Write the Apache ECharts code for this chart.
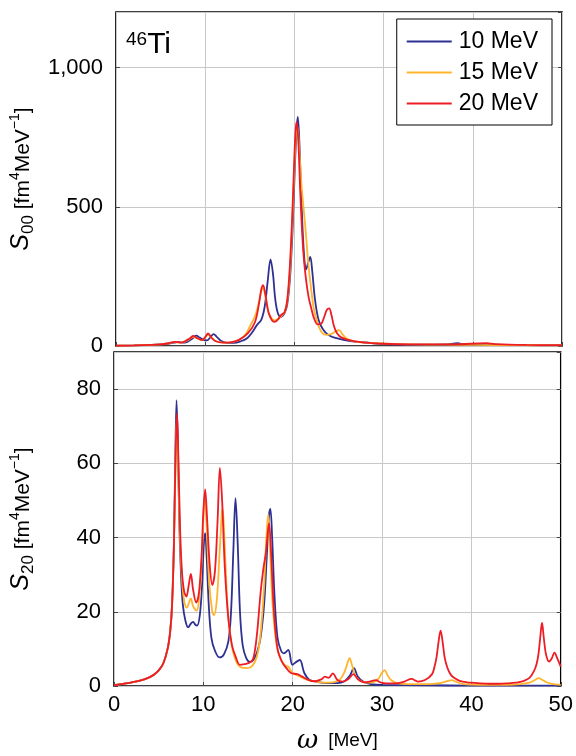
<!DOCTYPE html>
<html><head><meta charset="utf-8">
<script src="https://cdn.jsdelivr.net/npm/echarts@6/dist/echarts.min.js"></script>
<style>html,body{margin:0;padding:0;background:#fff}#c{width:576px;height:756px}</style>
</head><body><div id="c"></div>
<script>
// ---- data (omega [MeV], S [fm^4 MeV^-1]) ----
const seriesNames = ['10 MeV', '15 MeV', '20 MeV'];
const xTicks = [0, 10, 20, 30, 40, 50];
const s00Ticks = [0, 500, 1000];
const s20Ticks = [0, 20, 40, 60, 80];

const s00_10 = [[0,1],[2,2],[4,4],[5,6],[6,9],[6.7,13],[7.0,15],[7.4,12],[8.0,15],[8.5,25],[9.0,37],[9.4,30],[9.8,22],[10.2,20],[10.6,32],[10.95,43],[11.3,33],[11.8,18],[12.5,11],[13.2,11],[14,17],[14.7,28],[15.2,46],[15.8,75],[16.3,95],[16.67,141],[17.0,230],[17.33,311],[17.6,260],[17.85,170],[18.15,118],[18.5,105],[18.9,118],[19.2,150],[19.5,240],[19.8,420],[20.05,640],[20.25,780],[20.38,823],[20.55,740],[20.75,560],[20.95,400],[21.15,300],[21.3,275],[21.55,300],[21.78,320],[22.0,270],[22.3,170],[22.7,95],[23.2,60],[23.8,40],[24.5,30],[25.5,22],[26.5,17],[27.5,14],[28.5,11],[29.5,8],[31,6],[34,5],[37,6],[38.3,10],[39,6],[42,5],[46,3],[50,2]];
const s00_15 = [[0,1],[2,2],[4,4],[5,6],[5.8,9],[6.6,14],[7.2,12],[7.8,17],[8.3,26],[8.67,33],[9.0,29],[9.67,21],[10.0,30],[10.33,42],[10.7,29],[11.2,17],[12,12],[13,14],[13.8,22],[14.5,40],[15.0,70],[15.56,105],[15.9,140],[16.2,185],[16.45,210],[16.75,180],[17.1,122],[17.5,97],[17.8,92],[18.2,98],[18.6,110],[18.9,120],[19.2,160],[19.5,265],[19.8,470],[20.05,680],[20.2,770],[20.33,790],[20.5,730],[20.75,600],[21.0,505],[21.25,420],[21.55,300],[21.85,213],[22.15,140],[22.4,105],[22.8,65],[23.15,46],[23.6,40],[24.1,43],[24.6,52],[25.0,57],[25.4,42],[25.8,28],[26.3,20],[27,15],[28,12],[30,9],[33,6],[37,5],[40,4],[45,3],[50,2]];
const s00_20 = [[0,1],[2,2],[4,4],[5,6],[5.8,9],[6.6,15],[7.2,12],[7.8,18],[8.3,28],[8.67,36],[9.0,30],[9.67,21],[10.0,32],[10.33,45],[10.7,30],[11.2,17],[12,12],[13,14],[13.8,22],[14.8,46],[15.6,87],[16.1,165],[16.3,205],[16.49,219],[16.75,185],[17.1,120],[17.5,92],[17.78,87],[18.2,97],[18.5,111],[18.9,122],[19.2,165],[19.5,290],[19.8,500],[20.0,680],[20.15,780],[20.26,805],[20.45,730],[20.65,560],[20.85,420],[21.05,320],[21.3,240],[21.6,175],[21.9,135],[22.2,100],[22.6,78],[23.0,80],[23.35,105],[23.65,130],[23.9,135],[24.15,112],[24.45,70],[24.8,45],[25.3,30],[26.5,18],[28,12],[30,8],[33,6],[38,6],[41.5,10],[42.5,7],[46,4],[50,3]];

const s20_10 = [[0,0.2],[1,0.6],[2,1.0],[3,1.5],[4,2.4],[4.5,3.1],[5,4.2],[5.5,6],[6,10],[6.3,15],[6.5,22],[6.7,38],[6.85,60],[7.0,77],[7.15,65],[7.3,45],[7.5,30],[7.7,22],[8.0,17.5],[8.3,15.8],[8.6,16.8],[8.85,17.3],[9.1,16.5],[9.3,16.3],[9.6,19],[9.85,27],[10.05,38],[10.2,41.2],[10.35,36],[10.6,22],[10.9,13],[11.3,9.5],[11.8,7.7],[12.3,8.5],[12.8,12],[13.1,20],[13.35,36],[13.6,50.6],[13.85,38],[14.1,20],[14.4,11],[14.8,7.5],[15.2,6.5],[15.6,7],[16.0,9],[16.4,13],[16.8,22],[17.1,35],[17.35,46],[17.5,47.7],[17.7,40],[17.95,25],[18.3,13],[18.7,9.5],[19.0,8.8],[19.5,9.7],[19.97,5.7],[20.4,6.5],[20.8,7],[21.3,3.5],[21.9,1.6],[23,1.0],[24,0.8],[25,0.8],[25.8,1.3],[26.4,2.8],[26.85,4.8],[27.3,2.5],[28,1],[29,0.4],[30,0.3],[35,0.2],[40,0.1],[45,0.1],[50,0.1]];
const s20_15 = [[0,0.2],[1,0.6],[2,1.0],[3,1.5],[4,2.4],[4.5,3.1],[5,4.2],[5.5,6],[6,10],[6.3,15],[6.5,22],[6.7,37],[6.85,55],[7.0,72],[7.15,62],[7.35,42],[7.6,29],[7.85,23],[8.15,21.1],[8.4,22.5],[8.6,23.6],[8.85,21.5],[9.25,20.3],[9.55,24],[9.8,33],[10.0,45],[10.15,51],[10.35,44],[10.65,28],[11.0,20],[11.2,19.1],[11.5,23],[11.8,35],[12.05,46],[12.15,47.9],[12.35,40],[12.7,22],[13.1,12],[13.6,7],[14.2,5],[14.9,4.8],[15.5,5.5],[16.0,8],[16.4,14],[16.8,27],[17.05,40],[17.25,46.1],[17.45,38],[17.75,22],[18.2,11],[18.7,7],[19.2,5.5],[19.5,5.2],[20,3.5],[20.6,2.8],[21.5,1.8],[22.5,1.2],[23.5,0.9],[24.5,1.0],[25.3,1.8],[25.8,3.8],[26.1,6],[26.37,7.5],[26.65,5.5],[27.0,2.8],[27.5,1.5],[28.2,0.9],[29,1.0],[29.6,2],[30.0,3.6],[30.27,4.3],[30.6,3],[31,1.6],[31.7,0.8],[33,0.5],[35,0.5],[36.5,0.8],[37.3,1.3],[37.8,1.6],[38.3,1.1],[39,0.6],[40,0.4],[42,0.3],[44,0.3],[45.5,0.5],[46.5,0.9],[47.1,1.6],[47.5,2.1],[47.9,1.7],[48.4,1.0],[49,0.6],[50,0.3]];
const s20_20 = [[0,0.2],[1,0.6],[2,1.0],[3,1.5],[4,2.4],[4.5,3.1],[5,4.2],[5.5,6],[6,10],[6.3,15],[6.5,22],[6.7,37],[6.85,57],[7.05,73.5],[7.2,62],[7.4,42],[7.6,31],[7.85,25.5],[8.1,24.1],[8.35,27],[8.6,30.2],[8.85,26],[9.2,22.5],[9.5,25],[9.8,35],[10.0,47],[10.2,53],[10.4,46],[10.7,33],[11.0,27.2],[11.3,31],[11.6,45],[11.85,58.8],[12.1,50],[12.4,32],[12.8,18],[13.2,11],[13.6,8],[14.1,5.7],[14.6,5.9],[15.2,6.3],[15.6,7.5],[16.0,14],[16.4,25],[16.7,31.3],[17.0,36],[17.35,43.9],[17.6,35],[17.9,20],[18.3,10],[18.8,6.5],[19.3,4.8],[19.8,3.5],[20.5,3.2],[21,2.6],[21.8,1.6],[22.5,1.3],[23.2,1.8],[23.6,2.5],[24,2.2],[24.5,3.4],[25,1.6],[25.6,1.2],[26.2,1.8],[26.8,3.2],[27.3,1.8],[28,1.0],[28.8,1.3],[29.3,1.6],[29.8,1.0],[30.5,0.7],[31.5,0.7],[32.5,1.2],[33.3,1.9],[34,1.2],[34.8,1.6],[35.6,3.2],[35.9,5.5],[36.1,7.8],[36.3,11.5],[36.55,14.9],[36.8,11.5],[37.0,7.8],[37.3,5],[37.7,3],[38.2,2],[38.7,1.4],[39.5,1.0],[40,0.9],[41,0.7],[42,0.6],[43,0.6],[44,0.7],[45,0.9],[45.8,1.3],[46.5,2.2],[47.0,4],[47.3,6],[47.5,8.5],[47.7,13],[47.9,17.1],[48.1,13],[48.35,8.5],[48.7,6.6],[49.0,7.5],[49.3,9],[49.6,7.5],[50,5.2]];

const colors = ['#2e3192', '#ffb42e', '#ee1c24'];

// ---- chart ----
const chart = echarts.init(document.getElementById('c'), null, {renderer: 'canvas'});
const FONT = 'Liberation Sans';
const fmt = v => v >= 1000 ? Math.floor(v/1000) + ',' + String(v % 1000).padStart(3, '0') : String(v);
const tickStyle = {show: true, inside: true, length: 4, lineStyle: {color: '#444', width: 1}};

function xAx(grid, showLabels) {
  const ax = {
    gridIndex: grid, type: 'value', min: xTicks[0], max: xTicks[xTicks.length-1], interval: xTicks[1]-xTicks[0],
    axisLine: {show: false},
    axisTick: tickStyle,
    splitLine: {show: true, lineStyle: {color: '#c8c8c8', width: 1}},
    axisLabel: {show: showLabels, fontSize: 22, fontFamily: FONT, color: '#000', margin: 8}
  };
  if (showLabels) {
    ax.name = '{w|ω}   {t|[MeV]}';
    ax.nameLocation = 'middle';
    ax.nameGap = 42;
    ax.nameTextStyle = {rich: {
      w: {fontSize: 26, fontStyle: 'italic', fontFamily: 'DejaVu Serif', color: '#000'},
      t: {fontSize: 19, fontFamily: FONT, color: '#000'}
    }};
  }
  return ax;
}
function yAx(grid, ticks, max, sub) {
  return {
    gridIndex: grid, type: 'value', min: ticks[0], max: max, interval: ticks[1]-ticks[0],
    axisLine: {show: false},
    axisTick: tickStyle,
    splitLine: {show: true, lineStyle: {color: '#c8c8c8', width: 1}},
    axisLabel: {fontSize: 22, fontFamily: FONT, color: '#000', margin: 13, showMaxLabel: false, formatter: fmt},
    name: '{s|S}{sub|' + sub + '}{t| [fm}{sup|4}{t|MeV}{sup|−1}{t|]}',
    nameLocation: 'middle', nameRotate: 90, nameGap: 80,
    nameTextStyle: {rich: {
      s: {fontSize: 25, fontStyle: 'italic', fontFamily: FONT, color: '#000', lineHeight: 26, verticalAlign: 'bottom'},
      sub: {fontSize: 17, fontFamily: FONT, color: '#000', lineHeight: 26, verticalAlign: 'bottom', padding: [0,0,-3,0]},
      t: {fontSize: 21, fontFamily: FONT, color: '#000', lineHeight: 26, verticalAlign: 'bottom'},
      sup: {fontSize: 14, fontFamily: FONT, color: '#000', lineHeight: 26, verticalAlign: 'top'}
    }}
  };
}
function yMirror(grid, ticks, max) {
  return {
    gridIndex: grid, type: 'value', position: 'right', min: ticks[0], max: max, interval: ticks[1]-ticks[0],
    axisLine: {show: false}, axisTick: tickStyle, axisLabel: {show: false}, splitLine: {show: false}
  };
}
function mk(i, data, g) {
  return {
    name: seriesNames[i], type: 'line', xAxisIndex: g, yAxisIndex: g, data: data,
    showSymbol: false, symbol: 'none', smooth: 0.35,
    lineStyle: {color: colors[i], width: 1.8}, itemStyle: {color: colors[i]},
    z: 2 + i, clip: true
  };
}

chart.setOption({
  animation: false,
  backgroundColor: '#fff',
  grid: [
    {left: 113, right: 14, top: 12, height: 334, show: true, borderColor: '#000', borderWidth: 1.6, backgroundColor: 'transparent'},
    {left: 113, right: 14, top: 352, height: 334, show: true, borderColor: '#000', borderWidth: 1.6, backgroundColor: 'transparent'}
  ],
  xAxis: [xAx(0, false), xAx(1, true)],
  yAxis: [yAx(0, s00Ticks, 1200, '00'), yAx(1, s20Ticks, 90, '20'), yMirror(0, s00Ticks, 1200), yMirror(1, s20Ticks, 90)],
  legend: {
    orient: 'vertical', right: 24, top: 19,
    data: seriesNames.map(n => ({name: n, icon: 'rect'})),
    itemWidth: 45, itemHeight: 2, itemGap: 8,
    padding: [11, 14, 10, 10],
    borderColor: '#000', borderWidth: 1, backgroundColor: '#fff',
    textStyle: {fontSize: 23, fontFamily: FONT, color: '#000', padding: [0,0,0,2]}
  },
  graphic: [{
    type: 'text', left: 126, top: 30, z: 10,
    style: {
      text: '{a|46}{b|Ti}',
      rich: {
        a: {fontSize: 19, fontFamily: FONT, fill: '#000', lineHeight: 30, verticalAlign: 'top'},
        b: {fontSize: 30, fontFamily: FONT, fill: '#000', lineHeight: 30, verticalAlign: 'bottom'}
      }
    }
  }],
  series: [
    mk(0, s00_10, 0), mk(1, s00_15, 0), mk(2, s00_20, 0),
    mk(0, s20_10, 1), mk(1, s20_15, 1), mk(2, s20_20, 1)
  ]
});
</script></body></html>
